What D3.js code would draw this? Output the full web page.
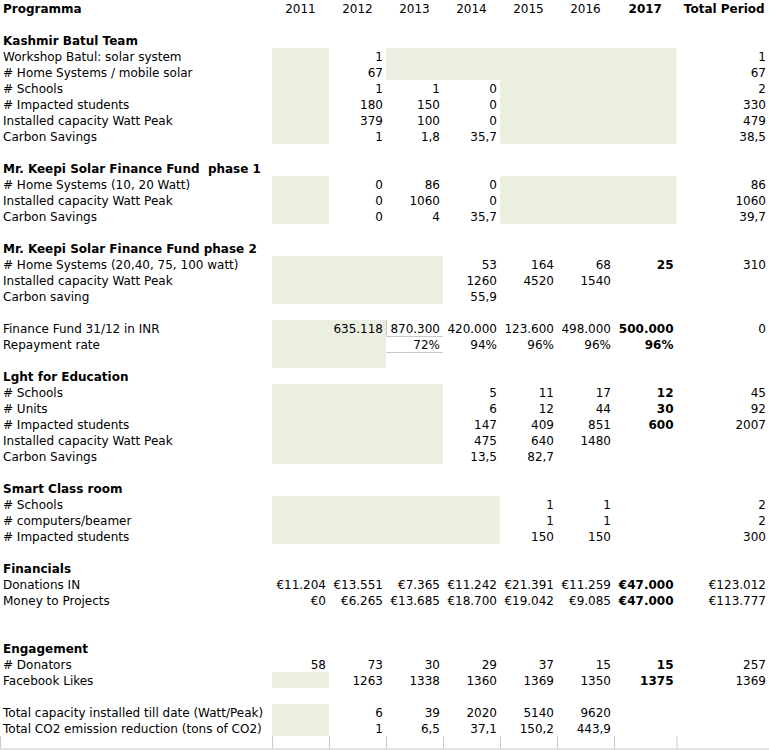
<!DOCTYPE html>
<html>
<head>
<meta charset="utf-8">
<script src="https://cdn.jsdelivr.net/npm/d3@7"></script>
<style>
  html, body { margin: 0; padding: 0; background: #fff; }
  svg { display: block; }
  text { font-family: "DejaVu Sans", Verdana, sans-serif; font-size: 12px; fill: #000; }
</style>
</head>
<body>
<script>
// ---------------- DATA ----------------
const columns = ["2011", "2012", "2013", "2014", "2015", "2016", "2017", "Total Period"];
const headerLabel = "Programma";

const kashmirTitle = "Kashmir Batul Team";
const kashmirLabels = ["Workshop Batul: solar system", "# Home Systems / mobile solar", "# Schools",
  "# Impacted students", "Installed capacity Watt Peak", "Carbon Savings"];
const kashmirValues = [
  [null, 1, null, null, null, null, null],
  [null, 67, null, null, null, null, null],
  [null, 1, 1, 0, null, null, null],
  [null, 180, 150, 0, null, null, null],
  [null, 379, 100, 0, null, null, null],
  [null, 1, 1.8, 35.7, null, null, null]];
const kashmirTotals = [1, 67, 2, 330, 479, 38.5];

const phase1Title = "Mr. Keepi Solar Finance Fund \u00a0phase 1";
const phase1Labels = ["# Home Systems (10, 20 Watt)", "Installed capacity Watt Peak", "Carbon Savings"];
const phase1Values = [
  [null, 0, 86, 0, null, null, null],
  [null, 0, 1060, 0, null, null, null],
  [null, 0, 4, 35.7, null, null, null]];
const phase1Totals = [86, 1060, 39.7];

const phase2Title = "Mr. Keepi Solar Finance Fund phase 2";
const phase2Labels = ["# Home Systems (20,40, 75, 100 watt)", "Installed capacity Watt Peak", "Carbon saving"];
const phase2Values = [
  [null, null, null, 53, 164, 68, 25],
  [null, null, null, 1260, 4520, 1540, null],
  [null, null, null, 55.9, null, null, null]];
const phase2Totals = [310, null, null];

const fundLabels = ["Finance Fund 31/12 in INR", "Repayment rate"];
const fundValues = [
  [null, 635118, 870300, 420000, 123600, 498000, 500000],
  [null, null, 0.72, 0.94, 0.96, 0.96, 0.96]];
const fundTotals = [0, null];

const educationTitle = "Lght for Education";
const educationLabels = ["# Schools", "# Units", "# Impacted students", "Installed capacity Watt Peak", "Carbon Savings"];
const educationValues = [
  [null, null, null, 5, 11, 17, 12],
  [null, null, null, 6, 12, 44, 30],
  [null, null, null, 147, 409, 851, 600],
  [null, null, null, 475, 640, 1480, null],
  [null, null, null, 13.5, 82.7, null, null]];
const educationTotals = [45, 92, 2007, null, null];

const smartTitle = "Smart Class room";
const smartLabels = ["# Schools", "# computers/beamer", "# Impacted students"];
const smartValues = [
  [null, null, null, null, 1, 1, null],
  [null, null, null, null, 1, 1, null],
  [null, null, null, null, 150, 150, null]];
const smartTotals = [2, 2, 300];

const financeTitle = "Financials";
const financeLabels = ["Donations IN", "Money to Projects"];
const financeValues = [
  [11204, 13551, 7365, 11242, 21391, 11259, 47000],
  [0, 6265, 13685, 18700, 19042, 9085, 47000]];
const financeTotals = [123012, 113777];

const engageTitle = "Engagement";
const engageLabels = ["# Donators", "Facebook Likes"];
const engageValues = [
  [58, 73, 30, 29, 37, 15, 15],
  [null, 1263, 1338, 1360, 1369, 1350, 1375]];
const engageTotals = [257, 1369];

const totalLabels = ["Total capacity installed till date (Watt/Peak)", "Total CO2 emission reduction (tons of CO2)"];
const totalValues = [
  [null, 6, 39, 2020, 5140, 9620, null],
  [null, 1, 6.5, 37.1, 150.2, 443.9, null]];
const totalTotals = [null, null];

// ---------------- FORMATS ----------------
const nl = d3.formatLocale({decimal: ",", thousands: ".", grouping: [3], currency: ["\u20ac", ""], percent: "%"});
const fmt = {
  plain: nl.format("~g"),
  grouped: nl.format(","),
  pct: nl.format(".0%"),
  eur: nl.format("$,")
};

// ---------------- ROW LAYOUT ----------------
const rows = [];
function blank(n = 1) { for (let i = 0; i < n; i++) rows.push({type: "blank"}); }
function title(t) { rows.push({type: "title", label: t}); }
function block(key, labels, values, totals, format) {
  labels.forEach((l, i) => rows.push({type: "data", key, label: l, values: values[i], total: totals[i],
    format: Array.isArray(format) ? format[i] : format}));
}
rows.push({type: "header"});
blank();
title(kashmirTitle); block("kashmir", kashmirLabels, kashmirValues, kashmirTotals, "plain"); blank();
title(phase1Title); block("phase1", phase1Labels, phase1Values, phase1Totals, "plain"); blank();
title(phase2Title); block("phase2", phase2Labels, phase2Values, phase2Totals, "plain"); blank();
block("fund", fundLabels, fundValues, fundTotals, ["grouped", "pct"]); rows.push({type: "blank", key: "fundpad"});
title(educationTitle); block("education", educationLabels, educationValues, educationTotals, "plain"); blank();
title(smartTitle); block("smart", smartLabels, smartValues, smartTotals, "plain"); blank();
title(financeTitle); block("finance", financeLabels, financeValues, financeTotals, ["eur", "eur"]); blank(2);
title(engageTitle); block("engage", engageLabels, engageValues, engageTotals, "plain"); blank();
block("total", totalLabels, totalValues, totalTotals, "plain");
rows.push({type: "grid"});
rows.forEach((r, i) => r.idx = i);

// ---------------- SCALES ----------------
const W = 769, H = 750;
const rowH = 16;
const y = d3.scaleBand().domain(d3.range(rows.length)).range([0, rows.length * rowH]).paddingInner(0).paddingOuter(0);
const colWidths = [57, 57, 57, 57, 57, 57, 62.5, 92.5];
const colLeftArr = colWidths.reduce((acc, w, i) => { acc.push(i === 0 ? 272 : acc[i - 1] + colWidths[i - 1]); return acc; }, []);
const colLeft = d3.scaleOrdinal().domain(columns).range(colLeftArr);
const colW = d3.scaleOrdinal().domain(columns).range(colWidths);
const colRight = c => colLeft(c) + colW(c);

const svg = d3.select("body").append("svg").attr("width", W).attr("height", H);

const shadeColor = "#ebefdf";
const lineColor = "#c9c9c9";

// shaded (not applicable) regions: row-group key, from column, to column, optional row subset
const shades = [
  {key: "kashmir", from: "2011", to: "2011"},
  {key: "kashmir", from: "2013", to: "2017", rows: [0, 1]},
  {key: "kashmir", from: "2015", to: "2017", rows: [2, 3, 4, 5]},
  {key: "phase1", from: "2011", to: "2011"},
  {key: "phase1", from: "2015", to: "2017"},
  {key: "phase2", from: "2011", to: "2013"},
  {key: "fund", from: "2011", to: "2012", extra: 1},
  {key: "education", from: "2011", to: "2013"},
  {key: "smart", from: "2011", to: "2014"},
  {key: "engage", from: "2011", to: "2011", rows: [1]},
  {key: "total", from: "2011", to: "2011"}
];
shades.forEach(s => {
  const grp = rows.filter(r => r.key === s.key);
  let sel = s.rows ? s.rows.map(i => grp[i]) : grp.slice();
  if (s.extra) sel.push(rows[sel[sel.length - 1].idx + 1]);
  const y0 = y(sel[0].idx), y1 = y(sel[sel.length - 1].idx) + y.bandwidth();
  svg.append("rect")
    .attr("x", colLeft(s.from)).attr("y", y0)
    .attr("width", colRight(s.to) - colLeft(s.from)).attr("height", y1 - y0)
    .attr("fill", shadeColor);
});

// small cell borders around 2013 finance cells
const fundRows = rows.filter(r => r.key === "fund");
const lines = svg.append("g").attr("stroke", lineColor).attr("stroke-width", 1);
lines.append("line").attr("x1", colLeft("2013") + 0.5).attr("x2", colLeft("2013") + 0.5)
  .attr("y1", y(fundRows[0].idx)).attr("y2", y(fundRows[0].idx) + y.bandwidth());
[fundRows[0], fundRows[1]].forEach(r => {
  const yy = y(r.idx) + y.bandwidth() + 0.5;
  lines.append("line").attr("x1", colLeft("2013")).attr("x2", colRight("2013")).attr("y1", yy).attr("y2", yy);
});

// bottom grid row
const gridRow = rows[rows.length - 1];
const gy0 = y(gridRow.idx), gy1 = gy0 + 12.5;
[0].concat(columns.map(c => colLeft(c))).forEach(x => {
  lines.append("line").attr("x1", x + 0.5).attr("x2", x + 0.5).attr("y1", gy0).attr("y2", gy1);
});
lines.append("line").attr("x1", 0).attr("x2", W).attr("y1", gy1 + 0.5).attr("y2", gy1 + 0.5);

// ---------------- TEXT ----------------
const baseline = r => y(r.idx) + y.bandwidth() / 2 + 4.5;
const txt = svg.append("g");

// header
const hdr = rows[0];
txt.append("text").attr("x", 3).attr("y", baseline(hdr)).attr("font-weight", "bold").text(headerLabel);
columns.forEach(c => {
  txt.append("text").attr("x", colLeft(c) + colW(c) / 2 + (c === "Total Period" ? 1.5 : 0)).attr("y", baseline(hdr))
    .attr("text-anchor", "middle")
    .attr("font-weight", (c === "2017" || c === "Total Period") ? "bold" : "normal")
    .text(c);
});

rows.filter(r => r.type === "title").forEach(r => {
  txt.append("text").attr("x", 3).attr("y", baseline(r)).attr("font-weight", "bold").text(r.label);
});

rows.filter(r => r.type === "data").forEach(r => {
  txt.append("text").attr("x", 3).attr("y", baseline(r)).text(r.label);
  const cells = r.values.map((v, i) => ({col: columns[i], v})).concat([{col: "Total Period", v: r.total}])
    .filter(d => d.v !== null && d.v !== undefined);
  txt.selectAll(null).data(cells).enter().append("text")
    .attr("x", d => colRight(d.col) - 3)
    .attr("y", baseline(r))
    .attr("text-anchor", "end")
    .attr("font-weight", d => d.col === "2017" ? "bold" : "normal")
    .text(d => fmt[d.col === "Total Period" && r.format === "grouped" ? "plain" : r.format](d.v));
});
</script>
</body>
</html>
